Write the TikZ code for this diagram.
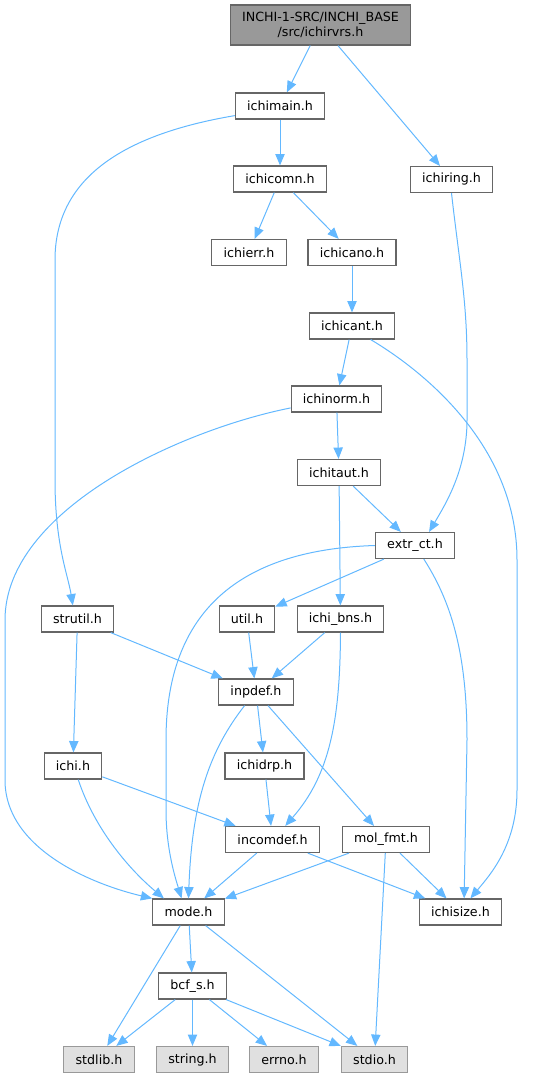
\documentclass[tikz,border=0pt]{standalone}
\usepackage{fontspec}
\setmainfont{DejaVu Sans}
\usepackage{tikz}
\usepackage{xcolor}
\usetikzlibrary{arrows.meta}

\definecolor{edgeblue}{HTML}{63B8FF}
\definecolor{boxline}{HTML}{666666}
\definecolor{rootfill}{HTML}{999999}
\definecolor{sysfill}{HTML}{E0E0E0}
\definecolor{sysline}{HTML}{999999}

\begin{document}
\begin{tikzpicture}[
          x=0.75pt, y=-0.75pt,
          every node/.style={font=\fontsize{9.5}{11}\selectfont},
          hdr/.style={draw=boxline, line width=0.9pt, fill=white, minimum height=19.5pt, inner xsep=8.8pt, inner ysep=0pt},
          root/.style={hdr, fill=rootfill, minimum height=30pt, align=center},
          sys/.style={hdr, draw=sysline, fill=sysfill},
          dep/.style={draw=edgeblue, line width=0.75pt, -{Triangle[length=8.5pt,width=7pt]}}
      ]
        \useasboundingbox (0,0) rectangle (532,1077);

        \node[root] (ichirvrs) at (320.5,25) {INCHI-1-SRC/INCHI\_BASE\\/src/ichirvrs.h};
        \node[hdr] (ichimain) at (280,106) {ichimain.h};
        \node[hdr] (ichicomn) at (280,179) {ichicomn.h};
        \node[hdr] (ichiring) at (451.5,179.5) {ichiring.h};
        \node[hdr] (ichierr) at (249,252.5) {ichierr.h};
        \node[hdr] (ichicano) at (352,252.5) {ichicano.h};
        \node[hdr] (ichicant) at (352,326) {ichicant.h};
        \node[hdr] (ichinorm) at (336.5,399) {ichinorm.h};
        \node[hdr] (ichitaut) at (339,472.5) {ichitaut.h};
        \node[hdr] (extrct) at (415,545.5) {extr\_ct.h};
        \node[hdr] (strutil) at (77.5,619) {strutil.h};
        \node[hdr] (util) at (247,619) {util.h};
        \node[hdr] (ichibns) at (340.5,619) {ichi\_bns.h};
        \node[hdr] (inpdef) at (256,692) {inpdef.h};
        \node[hdr] (ichi) at (73,766) {ichi.h};
        \node[hdr] (ichidrp) at (264.5,766) {ichidrp.h};
        \node[hdr] (incomdef) at (272.5,839.5) {incomdef.h};
        \node[hdr] (molfmt) at (386,839.5) {mol\_fmt.h};
        \node[hdr] (mode) at (188.5,912) {mode.h};
        \node[hdr] (ichisize) at (460.5,912) {ichisize.h};
        \node[hdr] (bcfs) at (192.5,986) {bcf\_s.h};
        \node[sys] (stdlib) at (99,1059.5) {stdlib.h};
        \node[sys] (string) at (192.5,1059.5) {string.h};
        \node[sys] (errno) at (284,1059.5) {errno.h};
        \node[sys] (stdio) at (374.5,1059.5) {stdio.h};

        \draw[dep] (ichirvrs) -- (ichimain);
        \draw[dep] (ichirvrs) -- (ichiring);
        \draw[dep] (ichimain) -- (ichicomn);
        \draw[dep] (ichimain.192) .. controls (120,135) and (55,180) .. (55,260) -- (55,480) .. controls (55,545) and (68,575) .. (strutil.109);
        \draw[dep] (ichicomn) -- (ichierr);
        \draw[dep] (ichicomn) -- (ichicano);
        \draw[dep] (ichiring.south) .. controls (459,260) and (467,300) .. (467,360) -- (467,420) .. controls (467,470) and (445,505) .. (extrct.44);
        \draw[dep] (ichicano) -- (ichicant);
        \draw[dep] (ichicant) -- (ichinorm);
        \draw[dep] (ichicant.324) .. controls (430,375) and (517,450) .. (517,560) -- (517,790) .. controls (517,845) and (490,875) .. (ichisize.54);
        \draw[dep] (ichinorm) -- (ichitaut);
        \draw[dep] (ichinorm.191) .. controls (180,430) and (5,510) .. (5,620) -- (5,780) .. controls (5,850) and (95,885) .. (mode.north west);
        \draw[dep] (ichitaut) -- (extrct);
        \draw[dep] (ichitaut) -- (ichibns);
        \draw[dep] (extrct) -- (util);
        \draw[dep] (extrct.west) .. controls (230,550) and (166,620) .. (166,740) -- (166,810) .. controls (166,850) and (176,880) .. (mode.117);
        \draw[dep] (extrct.303) .. controls (450,600) and (467,650) .. (467,740) -- (ichisize.75);
        \draw[dep] (strutil) -- (inpdef);
        \draw[dep] (strutil) -- (ichi);
        \draw[dep] (util) -- (inpdef);
        \draw[dep] (ichibns) -- (inpdef);
        \draw[dep] (ichibns.south) .. controls (340,720) and (330,775) .. (incomdef.47);
        \draw[dep] (inpdef.230) .. controls (210,750) and (192,800) .. (mode.north);
        \draw[dep] (inpdef) -- (ichidrp);
        \draw[dep] (inpdef) -- (molfmt);
        \draw[dep] (ichi.291) .. controls (95,830) and (130,870) .. (mode.151);
        \draw[dep] (ichi) -- (incomdef);
        \draw[dep] (ichidrp) -- (incomdef);
        \draw[dep] (incomdef) -- (mode);
        \draw[dep] (incomdef) -- (ichisize);
        \draw[dep] (molfmt) -- (mode);
        \draw[dep] (molfmt) -- (ichisize);
        \draw[dep] (molfmt) -- (stdio);
        \draw[dep] (mode) -- (stdlib);
        \draw[dep] (mode) -- (bcfs);
        \draw[dep] (mode) -- (stdio);
        \draw[dep] (bcfs) -- (stdlib);
        \draw[dep] (bcfs) -- (string);
        \draw[dep] (bcfs) -- (errno);
        \draw[dep] (bcfs) -- (stdio);
      \end{tikzpicture}
\end{document}
